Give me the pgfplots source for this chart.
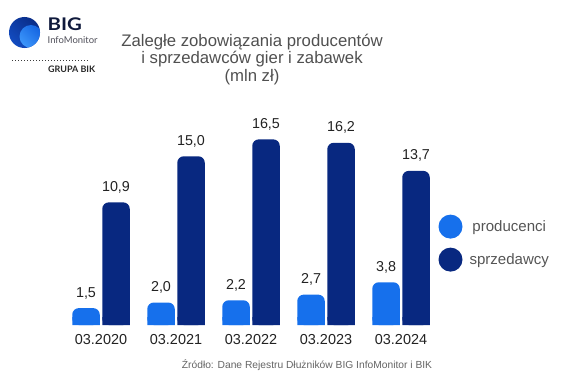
\documentclass[border=0pt]{standalone}
\usepackage{pgfplots}
\pgfplotsset{compat=1.18}
\usepackage{pgfplotstable}
\usepackage{fontspec}
\setmainfont{Liberation Sans}
\newfontfamily\lato{Lato}
\definecolor{lightb}{RGB}{22,112,236}
\definecolor{darkb}{RGB}{8,40,128}
\definecolor{txt}{RGB}{34,34,34}
\definecolor{ttl}{RGB}{80,80,80}
\definecolor{leg}{RGB}{85,85,85}
\definecolor{src}{RGB}{100,100,100}
\definecolor{logoA}{RGB}{20,80,200}
\definecolor{logoB}{RGB}{20,100,225}
\definecolor{logoC}{RGB}{60,150,250}
\definecolor{logoT}{RGB}{15,25,60}
\definecolor{logoG}{RGB}{80,80,90}
\definecolor{logoD}{RGB}{60,60,60}
\definecolor{logoK}{RGB}{40,40,40}

\pgfplotstableread{
x y
0 1.5
1 2.0
2 2.2
3 2.7
4 3.8
}\producenci
\pgfplotstableread{
x y
0 10.9
1 15.0
2 16.5
3 16.2
4 13.7
}\sprzedawcy

\begin{document}
\begin{tikzpicture}[x=1bp,y=1bp]
\useasboundingbox (0,0) rectangle (580,375);
% logo
\begin{scope}
\clip (24.5,342.5) circle (15.5);
\shade[left color=darkb, right color=logoA, shading angle=-45] (5,323) rectangle (44,362);
\shade[left color=logoB, right color=logoC, shading angle=-45] (31,338.5) circle (11.5);
\end{scope}
\node[anchor=base west, inner sep=0, xscale=1.17, font=\lato\bfseries\fontsize{17.5}{17.5}\selectfont, text=logoT] at (47.5,345) {BIG};
\node[anchor=base west, inner sep=0, font=\lato\fontsize{9.5}{10}\selectfont, text=logoG] at (47.5,332) {InfoMonitor};
\draw[line width=1bp, dash pattern=on 1bp off 2bp, logoD] (12,315) -- (90,315);
\node[anchor=base west, inner sep=0, font=\lato\bfseries\fontsize{9}{9}\selectfont, text=logoK] at (48,303) {GRUPA BIK};
% title
\node[anchor=north, inner sep=0, align=center, font=\fontsize{16.8}{17.8}\selectfont, text=ttl] at (252,341.3) {Zaległe zobowiązania producentów\\ i sprzedawców gier i zabawek\\ (mln zł)};
% source
\node[anchor=base, inner sep=0, font=\fontsize{10.3}{12}\selectfont, text=src] at (307,7) {Źródło: Dane Rejestru Dłużników BIG InfoMonitor i BIK};
\begin{axis}[
  at={(63.5bp,50bp)}, anchor=south west,
  scale only axis, width=375bp, height=225bp,
  xmin=-0.5, xmax=4.5, ymin=0, ymax=20,
  ybar, bar width=27.5bp,
  axis line style={draw=none}, tick style={draw=none},
  ytick=\empty, xtick={0,1,2,3,4},
  xticklabels={03.2020,03.2021,03.2022,03.2023,03.2024},
  xticklabel style={font=\fontsize{14.5}{16}\selectfont, text=txt, yshift=-2bp},
  clip mode=individual,
  vals/.style={nodes near coords={\pgfmathprintnumber[fixed, fixed zerofill, precision=1, use comma, assume math mode=true]{\pgfplotspointmeta}}},
  every node near coord/.append style={font=\fontsize{14.4}{16}\selectfont, text=txt, inner sep=0pt, anchor=south, yshift=9bp},
  circ legend/.style={legend image code/.code={\fill[##1] (12bp,0bp) circle (12bp);}},
  legend style={draw=none, fill=none, at={(1,0.364)}, anchor=west, inner sep=0pt, outer sep=0pt, row sep=9bp, font=\fontsize{15.1}{16}\selectfont, text=leg, nodes={inner sep=0pt}, /tikz/every odd column/.append style={column sep=7bp}},
]
\addplot[fill=lightb, draw=none, rounded corners=6.5bp, bar shift=-15bp, circ legend, vals] table[x=x,y=y] {\producenci};
\addlegendentry{producenci}
\addplot[fill=darkb, draw=none, rounded corners=6.5bp, bar shift=15bp, circ legend, vals] table[x=x,y=y] {\sprzedawcy};
\addlegendentry{sprzedawcy}
\begin{scope}
\clip (axis cs:-0.5,0) rectangle (axis cs:4.5,0.7);
\addplot[fill=lightb, draw=none, bar shift=-15bp, forget plot] table[x=x,y=y] {\producenci};
\addplot[fill=darkb, draw=none, bar shift=15bp, forget plot] table[x=x,y=y] {\sprzedawcy};
\end{scope}
\end{axis}
\end{tikzpicture}
\end{document}
